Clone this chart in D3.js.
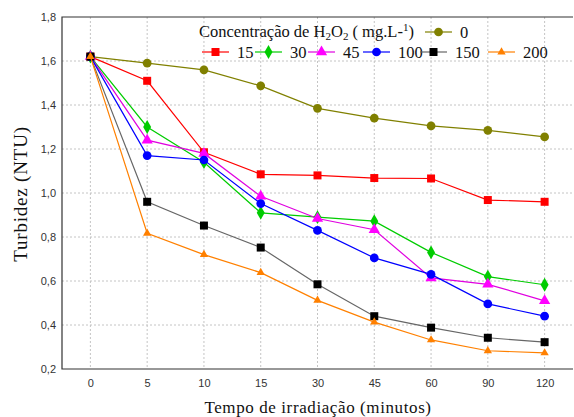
<!DOCTYPE html>
<html>
<head>
<meta charset="utf-8">
<script src="https://cdn.jsdelivr.net/npm/d3@7"></script>
<style>
  body { margin: 0; background: #fff; }
  svg { display: block; }
  .tick text { font-family: "Liberation Sans", Arial, sans-serif; font-size: 11px; fill: #333; }
</style>
</head>
<body>
<svg id="chart" width="574" height="417"></svg>
<script>
// categories (minutes) and turbidity per H2O2 concentration
var tempos = ['0', '5', '10', '15', '30', '45', '60', '90', '120'];
var yTicks = [0.2, 0.4, 0.6, 0.8, 1.0, 1.2, 1.4, 1.6, 1.8];

var c0   = [1.62, 1.59, 1.56, 1.487, 1.385, 1.34, 1.305, 1.285, 1.255];
var c15  = [1.62, 1.51, 1.185, 1.085, 1.08, 1.068, 1.066, 0.968, 0.96];
var c30  = [1.62, 1.30, 1.14, 0.91, 0.89, 0.872, 0.73, 0.62, 0.583];
var c45  = [1.62, 1.24, 1.18, 0.985, 0.884, 0.833, 0.614, 0.585, 0.51];
var c100 = [1.62, 1.17, 1.15, 0.952, 0.83, 0.705, 0.63, 0.496, 0.44];
var c150 = [1.62, 0.96, 0.852, 0.752, 0.585, 0.44, 0.388, 0.342, 0.322];
var c200 = [1.62, 0.817, 0.72, 0.638, 0.512, 0.413, 0.332, 0.283, 0.273];

var series = [
  {name: '0',   vals: c0,   line: '#808000', fill: '#808000', shape: 'circle',  size: 60},
  {name: '15',  vals: c15,  line: '#ff0000', fill: '#ff0000', shape: 'square',  size: 64},
  {name: '30',  vals: c30,  line: '#00cc00', fill: '#00cc00', shape: 'diamond', size: 55},
  {name: '45',  vals: c45,  line: '#e000e0', fill: '#ff00ff', shape: 'triangle', size: 55},
  {name: '100', vals: c100, line: '#0000ff', fill: '#0000ff', shape: 'circle',  size: 60},
  {name: '150', vals: c150, line: '#666666', fill: '#000000', shape: 'square',  size: 64},
  {name: '200', vals: c200, line: '#ff8000', fill: '#ff8000', shape: 'triangle', size: 30}
];

var pLeft = 62, pRight = 573, pTop = 17, pBottom = 369;
var svg = d3.select('#chart');

var x = d3.scalePoint().domain(tempos).range([pLeft, pRight]).padding(0.5);
var y = d3.scaleLinear().domain([0.2, 1.8]).range([pBottom, pTop]);

var shapes = {circle: d3.symbolCircle, square: d3.symbolSquare, diamond: d3.symbolDiamond, triangle: d3.symbolTriangle};

// grid
svg.append('g').selectAll('line').data(tempos).enter().append('line')
  .attr('x1', d => x(d)).attr('x2', d => x(d)).attr('y1', pTop).attr('y2', pBottom)
  .attr('stroke', '#c4c4c4').attr('stroke-dasharray', '2,2');
svg.append('g').selectAll('line').data(yTicks.slice(1, -1)).enter().append('line')
  .attr('x1', pLeft).attr('x2', pRight).attr('y1', d => y(d)).attr('y2', d => y(d))
  .attr('stroke', '#c4c4c4').attr('stroke-dasharray', '2,2');

// axes
var yAxis = svg.append('g').attr('transform', 'translate(' + pLeft + ',0)')
  .call(d3.axisLeft(y).tickValues(yTicks).tickSize(0).tickPadding(6)
    .tickFormat(d => d3.format('.1f')(d).replace('.', ',')));
yAxis.select('.domain').remove();
var xAxis = svg.append('g').attr('transform', 'translate(0,' + pBottom + ')')
  .call(d3.axisBottom(x).tickSize(0).tickPadding(10));
xAxis.select('.domain').remove();

// frame
svg.append('path').attr('d', 'M' + pRight + ',' + pTop + 'H' + pLeft + 'V' + pBottom + 'H' + pRight)
  .attr('fill', 'none').attr('stroke', '#333').attr('stroke-width', 1.2);

// series
var line = d3.line().x((d, i) => x(tempos[i])).y(d => y(d));
series.forEach(function(s) {
  svg.append('path').datum(s.vals).attr('d', line)
    .attr('fill', 'none').attr('stroke', s.line).attr('stroke-width', 1.2);
  svg.append('g').selectAll('path').data(s.vals).enter().append('path')
    .attr('d', d3.symbol().type(shapes[s.shape]).size(s.size))
    .attr('transform', (d, i) => 'translate(' + x(tempos[i]) + ',' + y(d) + ')')
    .attr('fill', s.fill);
});

// legend
var serif = '"Liberation Serif", "Times New Roman", serif';
var title = svg.append('text').attr('x', 199).attr('y', 37)
  .attr('font-family', serif).attr('font-size', 16.5).attr('fill', '#111');
title.append('tspan').text('Concentração de H');
title.append('tspan').attr('font-size', 11).attr('dy', 3).text('2');
title.append('tspan').attr('dy', -3).text('O');
title.append('tspan').attr('font-size', 11).attr('dy', 3).text('2');
title.append('tspan').attr('dy', -3).text(' ( mg.L-');
title.append('tspan').attr('font-size', 11).attr('dy', -6).text('1');
title.append('tspan').attr('dy', 6).text(')');

var legPos = [
  {x: 425, y: 32}, {x: 202, y: 52}, {x: 255, y: 52}, {x: 308, y: 52},
  {x: 363, y: 52}, {x: 420, y: 52}, {x: 488, y: 52}
];
series.forEach(function(s, i) {
  var p = legPos[i];
  var g = svg.append('g').attr('transform', 'translate(' + p.x + ',' + p.y + ')');
  g.append('line').attr('x1', 0).attr('x2', 27).attr('stroke', s.line).attr('stroke-width', 1.2);
  g.append('path').attr('d', d3.symbol().type(shapes[s.shape]).size(s.size))
    .attr('transform', 'translate(13.5,0)').attr('fill', s.fill);
  g.append('text').attr('x', 35).attr('y', 5.5).text(s.name)
    .attr('font-family', serif).attr('font-size', 16.5).attr('fill', '#111');
});

// axis titles
svg.append('text').attr('transform', 'translate(27,194) rotate(-90)')
  .attr('text-anchor', 'middle').attr('font-family', serif).attr('font-size', 19)
  .attr('letter-spacing', 0.8).attr('fill', '#111').text('Turbidez (NTU)');
svg.append('text').attr('x', 318).attr('y', 413).attr('text-anchor', 'middle')
  .attr('font-family', serif).attr('font-size', 17).attr('letter-spacing', 0.6)
  .attr('fill', '#111').text('Tempo de irradiação (minutos)');
</script>
</body>
</html>
